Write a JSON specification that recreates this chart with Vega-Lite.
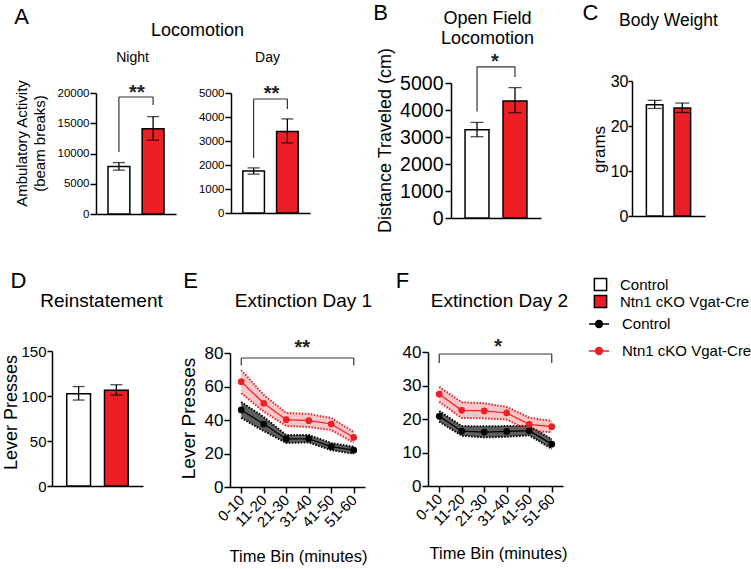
{
  "$schema": "https://vega.github.io/schema/vega-lite/v6.json",
  "autosize": {"type": "none"},
  "padding": {"left": 52, "top": 81, "right": 699, "bottom": 488},
  "background": "white",
  "config": {
    "font": "Liberation Sans",
    "view": {"stroke": null},
    "axis": {"grid": false, "domainColor": "black", "domainWidth": 1.5, "tickColor": "black", "tickWidth": 1.5, "tickSize": 6, "labelColor": "black", "titleColor": "black", "labelFont": "Liberation Sans", "titleFont": "Liberation Sans", "titleFontWeight": "normal", "labelPadding": 2},
    "legend": {"labelFont": "Liberation Sans", "labelColor": "black"},
    "text": {"font": "Liberation Sans"}
  },
  "datasets": {
    "nightBracket": [{"left": "Control", "right": "Ntn1 cKO Vgat-Cre", "top": 19340, "leftEnd": 10250, "rightEnd": 18010, "stars": "**", "starY": 19090}],
    "dayBracket": [{"left": "Control", "right": "Ntn1 cKO Vgat-Cre", "top": 4750, "leftEnd": 2290, "rightEnd": 4330, "stars": "**", "starY": 4690}],
    "ofBracket": [{"left": "Control", "right": "Ntn1 cKO Vgat-Cre", "top": 5600, "leftEnd": 3940, "rightEnd": 5220, "stars": "*", "starY": 5574}],
    "ext1Bracket": [{"left": "0-10", "right": "51-60", "mid": "21-30", "top": 77, "leftEnd": 72.5, "rightEnd": 72.5, "stars": "**", "starY": 79.7}],
    "ext2Bracket": [{"left": "0-10", "right": "51-60", "mid": "21-30", "top": 39.4, "leftEnd": 36.7, "rightEnd": 36.7, "stars": "*", "starY": 39.85}]
  },
  "columns": 4,
  "spacing": {"row": 133, "column": 40},
  "bounds": "flush",
  "align": "each",
  "resolve": {"scale": {"fill": "shared", "color": "shared"}},
  "concat": [
    {
      "width": 138, "height": 133,
      "data": {"values": [
        {"group": "Control", "mean": 7850, "lo": 7250, "hi": 8500},
        {"group": "Ntn1 cKO Vgat-Cre", "mean": 14100, "lo": 12200, "hi": 16100}
      ]},
      "layer": [
        {"mark": {"type": "bar", "stroke": "black", "strokeWidth": 1.5},
         "encoding": {
           "x": {"field": "group", "type": "nominal", "scale": {"range": [44, 124], "paddingInner": 0.36, "paddingOuter": 0.35},
                 "axis": {"orient": "bottom", "labels": false, "ticks": false, "title": "A", "titleFontSize": 22, "titleX": -31, "titleY": -198, "titleAlign": "center", "titleBaseline": "middle", "titleAngle": 0}},
           "y": {"field": "mean", "type": "quantitative", "scale": {"domain": [0, 20000], "range": [133, 12], "nice": false},
                 "axis": {"offset": -44, "values": [0, 5000, 10000, 15000, 20000], "format": "d", "labelFontSize": 11.5, "labelPadding": 1, "title": ["Ambulatory Activity", "(beam breaks)"], "titleFontSize": 15, "titleLineHeight": 18, "titleX": -75, "titleY": 62, "titleAngle": -90, "titleAlign": "center", "titleBaseline": "middle"}},
           "fill": {"field": "group", "type": "nominal", "scale": {"domain": ["Control", "Ntn1 cKO Vgat-Cre"], "range": ["white", "#ec1f26"]},
                    "legend": {"orient": "none", "legendX": 541, "legendY": 196, "title": null, "symbolType": "square", "symbolSize": 150, "symbolStrokeColor": "black", "symbolStrokeWidth": 1.5, "labelFontSize": 15, "labelOffset": 12, "rowPadding": -7, "padding": 0}}
         }},
        {"mark": {"type": "rule", "color": "black", "strokeWidth": 1.3},
         "encoding": {"x": {"field": "group", "type": "nominal", "axis": null}, "y": {"field": "lo", "type": "quantitative", "axis": null}, "y2": {"field": "hi"}}},
        {"mark": {"type": "tick", "color": "black", "size": 12, "thickness": 1.3},
         "encoding": {"x": {"field": "group", "type": "nominal", "axis": null}, "y": {"field": "lo", "type": "quantitative", "axis": null}}},
        {"mark": {"type": "tick", "color": "black", "size": 12, "thickness": 1.3},
         "encoding": {"x": {"field": "group", "type": "nominal", "axis": null}, "y": {"field": "hi", "type": "quantitative", "axis": null}}},
        {"data": {"name": "nightBracket"}, "mark": {"type": "rule", "color": "#333", "strokeWidth": 1.2},
         "encoding": {"x": {"field": "left", "type": "nominal", "axis": {"orient": "top", "domain": false, "labels": false, "ticks": false, "title": "Night", "titleFontSize": 14, "titleX": 80, "titleY": -24, "titleAlign": "center", "titleBaseline": "middle", "titleAngle": 0}},
                      "x2": {"field": "right"}, "y": {"field": "top", "type": "quantitative", "axis": null}}},
        {"data": {"name": "nightBracket"}, "mark": {"type": "rule", "color": "#333", "strokeWidth": 1.2},
         "encoding": {"x": {"field": "left", "type": "nominal", "axis": null}, "y": {"field": "top", "type": "quantitative", "axis": null}, "y2": {"field": "leftEnd"}}},
        {"data": {"name": "nightBracket"}, "mark": {"type": "rule", "color": "#333", "strokeWidth": 1.2},
         "encoding": {"x": {"field": "right", "type": "nominal", "axis": null}, "y": {"field": "top", "type": "quantitative", "axis": null}, "y2": {"field": "rightEnd"}}},
        {"data": {"name": "nightBracket"}, "mark": {"type": "text", "fontSize": 20, "fontWeight": "bold", "baseline": "alphabetic", "align": "center", "dx": 18, "color": "#222"},
         "encoding": {"x": {"field": "left", "type": "nominal", "axis": null}, "y": {"field": "starY", "type": "quantitative", "axis": null}, "text": {"field": "stars"}}}
      ],
      "resolve": {"axis": {"x": "independent", "y": "independent"}}
    },
    {
      "width": 158, "height": 132,
      "data": {"values": [
        {"group": "Control", "mean": 1750, "lo": 1620, "hi": 1880},
        {"group": "Ntn1 cKO Vgat-Cre", "mean": 3400, "lo": 2920, "hi": 3920}
      ]},
      "layer": [
        {"mark": {"type": "bar", "stroke": "black", "strokeWidth": 1.5},
         "encoding": {
           "x": {"field": "group", "type": "nominal", "scale": {"range": [1, 80], "paddingInner": 0.36, "paddingOuter": 0.35},
                 "axis": {"orient": "bottom", "labels": false, "ticks": false, "title": "Locomotion", "titleFontSize": 18, "titleX": -33, "titleY": -183, "titleAlign": "center", "titleBaseline": "middle", "titleAngle": 0}},
           "y": {"field": "mean", "type": "quantitative", "scale": {"domain": [0, 5000], "range": [132, 12], "nice": false},
                 "axis": {"offset": -1, "values": [0, 1000, 2000, 3000, 4000, 5000], "format": "d", "labelFontSize": 11.5, "labelPadding": 1, "title": null}},
           "fill": {"field": "group", "type": "nominal", "scale": {"domain": ["Control", "Ntn1 cKO Vgat-Cre"], "range": ["white", "#ec1f26"]},
                    "legend": {"orient": "none", "legendX": 541, "legendY": 196, "title": null, "symbolType": "square", "symbolSize": 150, "symbolStrokeColor": "black", "symbolStrokeWidth": 1.5, "labelFontSize": 15, "labelOffset": 12, "rowPadding": -7, "padding": 0}}
         }},
        {"mark": {"type": "rule", "color": "black", "strokeWidth": 1.3},
         "encoding": {"x": {"field": "group", "type": "nominal", "axis": null}, "y": {"field": "lo", "type": "quantitative", "axis": null}, "y2": {"field": "hi"}}},
        {"mark": {"type": "tick", "color": "black", "size": 12, "thickness": 1.3},
         "encoding": {"x": {"field": "group", "type": "nominal", "axis": null}, "y": {"field": "lo", "type": "quantitative", "axis": null}}},
        {"mark": {"type": "tick", "color": "black", "size": 12, "thickness": 1.3},
         "encoding": {"x": {"field": "group", "type": "nominal", "axis": null}, "y": {"field": "hi", "type": "quantitative", "axis": null}}},
        {"data": {"name": "dayBracket"}, "mark": {"type": "rule", "color": "#333", "strokeWidth": 1.2},
         "encoding": {"x": {"field": "left", "type": "nominal", "axis": {"orient": "top", "domain": false, "labels": false, "ticks": false, "title": "Day", "titleFontSize": 14, "titleX": 37, "titleY": -24, "titleAlign": "center", "titleBaseline": "middle", "titleAngle": 0}},
                      "x2": {"field": "right"}, "y": {"field": "top", "type": "quantitative", "axis": null}}},
        {"data": {"name": "dayBracket"}, "mark": {"type": "rule", "color": "#333", "strokeWidth": 1.2},
         "encoding": {"x": {"field": "left", "type": "nominal", "axis": null}, "y": {"field": "top", "type": "quantitative", "axis": null}, "y2": {"field": "leftEnd"}}},
        {"data": {"name": "dayBracket"}, "mark": {"type": "rule", "color": "#333", "strokeWidth": 1.2},
         "encoding": {"x": {"field": "right", "type": "nominal", "axis": null}, "y": {"field": "top", "type": "quantitative", "axis": null}, "y2": {"field": "rightEnd"}}},
        {"data": {"name": "dayBracket"}, "mark": {"type": "text", "fontSize": 20, "fontWeight": "bold", "baseline": "alphabetic", "align": "center", "dx": 18, "color": "#222"},
         "encoding": {"x": {"field": "left", "type": "nominal", "axis": null}, "y": {"field": "starY", "type": "quantitative", "axis": null}, "text": {"field": "stars"}}}
      ],
      "resolve": {"axis": {"x": "independent", "y": "independent"}}
    },
    {
      "width": 164, "height": 137,
      "data": {"values": [
        {"group": "Control", "mean": 3270, "lo": 3010, "hi": 3540},
        {"group": "Ntn1 cKO Vgat-Cre", "mean": 4330, "lo": 3900, "hi": 4830}
      ]},
      "layer": [
        {"mark": {"type": "bar", "stroke": "black", "strokeWidth": 1.5},
         "encoding": {
           "x": {"field": "group", "type": "nominal", "scale": {"range": [23, 113], "paddingInner": 0.37, "paddingOuter": 0.37},
                 "axis": {"orient": "bottom", "labels": false, "ticks": false, "title": "B", "titleFontSize": 22, "titleX": -48, "titleY": -206, "titleAlign": "center", "titleBaseline": "middle", "titleAngle": 0}},
           "y": {"field": "mean", "type": "quantitative", "scale": {"domain": [0, 5000], "range": [137, 2], "nice": false},
                 "axis": {"offset": -23, "values": [0, 1000, 2000, 3000, 4000, 5000], "format": "d", "labelFontSize": 19.5, "labelPadding": 2, "title": "Distance Traveled (cm)", "titleFontSize": 18, "titleX": -66, "titleY": 59, "titleAngle": -90, "titleAlign": "center", "titleBaseline": "middle"}},
           "fill": {"field": "group", "type": "nominal", "scale": {"domain": ["Control", "Ntn1 cKO Vgat-Cre"], "range": ["white", "#ec1f26"]},
                    "legend": {"orient": "none", "legendX": 541, "legendY": 196, "title": null, "symbolType": "square", "symbolSize": 150, "symbolStrokeColor": "black", "symbolStrokeWidth": 1.5, "labelFontSize": 15, "labelOffset": 12, "rowPadding": -7, "padding": 0}}
         }},
        {"mark": {"type": "rule", "color": "black", "strokeWidth": 1.3},
         "encoding": {"x": {"field": "group", "type": "nominal", "axis": null}, "y": {"field": "lo", "type": "quantitative", "axis": null}, "y2": {"field": "hi"}}},
        {"mark": {"type": "tick", "color": "black", "size": 13, "thickness": 1.3},
         "encoding": {"x": {"field": "group", "type": "nominal", "axis": null}, "y": {"field": "lo", "type": "quantitative", "axis": null}}},
        {"mark": {"type": "tick", "color": "black", "size": 13, "thickness": 1.3},
         "encoding": {"x": {"field": "group", "type": "nominal", "axis": null}, "y": {"field": "hi", "type": "quantitative", "axis": null}}},
        {"data": {"name": "ofBracket"}, "mark": {"type": "rule", "color": "#333", "strokeWidth": 1.2},
         "encoding": {"x": {"field": "left", "type": "nominal", "axis": {"orient": "top", "domain": false, "labels": false, "ticks": false, "title": ["Open Field", "Locomotion"], "titleFontSize": 18, "titleLineHeight": 20, "titleX": 59, "titleY": -63, "titleAlign": "center", "titleBaseline": "middle", "titleAngle": 0}},
                      "x2": {"field": "right"}, "y": {"field": "top", "type": "quantitative", "axis": null}}},
        {"data": {"name": "ofBracket"}, "mark": {"type": "rule", "color": "#333", "strokeWidth": 1.2},
         "encoding": {"x": {"field": "left", "type": "nominal", "axis": null}, "y": {"field": "top", "type": "quantitative", "axis": null}, "y2": {"field": "leftEnd"}}},
        {"data": {"name": "ofBracket"}, "mark": {"type": "rule", "color": "#333", "strokeWidth": 1.2},
         "encoding": {"x": {"field": "right", "type": "nominal", "axis": null}, "y": {"field": "top", "type": "quantitative", "axis": null}, "y2": {"field": "rightEnd"}}},
        {"data": {"name": "ofBracket"}, "mark": {"type": "text", "fontSize": 20, "fontWeight": "bold", "baseline": "alphabetic", "align": "center", "dx": 18, "color": "#222"},
         "encoding": {"x": {"field": "left", "type": "nominal", "axis": null}, "y": {"field": "starY", "type": "quantitative", "axis": null}, "text": {"field": "stars"}}}
      ],
      "resolve": {"axis": {"x": "independent", "y": "independent"}}
    },
    {
      "width": 74, "height": 135,
      "data": {"values": [
        {"group": "Control", "mean": 24.7, "lo": 23.9, "hi": 25.7},
        {"group": "Ntn1 cKO Vgat-Cre", "mean": 24.0, "lo": 23.0, "hi": 25.1}
      ]},
      "layer": [
        {"mark": {"type": "bar", "stroke": "black", "strokeWidth": 1.5},
         "encoding": {
           "x": {"field": "group", "type": "nominal", "scale": {"range": [0, 73], "paddingInner": 0.4, "paddingOuter": 0.52},
                 "axis": {"orient": "bottom", "labels": false, "ticks": false, "title": "C", "titleFontSize": 22, "titleX": -42, "titleY": -204, "titleAlign": "center", "titleBaseline": "middle", "titleAngle": 0}},
           "y": {"field": "mean", "type": "quantitative", "scale": {"domain": [0, 30], "range": [135, 0], "nice": false},
                 "axis": {"values": [0, 10, 20, 30], "format": "d", "labelFontSize": 16, "tickSize": 4, "labelPadding": 0, "title": "grams", "titleFontSize": 17, "titleX": -33, "titleY": 68, "titleAngle": -90, "titleAlign": "center", "titleBaseline": "middle"}},
           "fill": {"field": "group", "type": "nominal", "scale": {"domain": ["Control", "Ntn1 cKO Vgat-Cre"], "range": ["white", "#ec1f26"]},
                    "legend": {"orient": "none", "legendX": 541, "legendY": 196, "title": null, "symbolType": "square", "symbolSize": 150, "symbolStrokeColor": "black", "symbolStrokeWidth": 1.5, "labelFontSize": 15, "labelOffset": 12, "rowPadding": -7, "padding": 0}}
         }},
        {"mark": {"type": "rule", "color": "black", "strokeWidth": 1.3},
         "encoding": {"x": {"field": "group", "type": "nominal", "axis": {"orient": "top", "domain": false, "labels": false, "ticks": false, "title": "Body Weight", "titleFontSize": 17.5, "titleX": 36, "titleY": -61, "titleAlign": "center", "titleBaseline": "middle", "titleAngle": 0}},
                      "y": {"field": "lo", "type": "quantitative", "axis": null}, "y2": {"field": "hi"}}},
        {"mark": {"type": "tick", "color": "black", "size": 14, "thickness": 1.3},
         "encoding": {"x": {"field": "group", "type": "nominal", "axis": null}, "y": {"field": "lo", "type": "quantitative", "axis": null}}},
        {"mark": {"type": "tick", "color": "black", "size": 14, "thickness": 1.3},
         "encoding": {"x": {"field": "group", "type": "nominal", "axis": null}, "y": {"field": "hi", "type": "quantitative", "axis": null}}}
      ],
      "resolve": {"axis": {"x": "independent", "y": "independent"}}
    },
    {
      "width": 138, "height": 135,
      "data": {"values": [
        {"group": "Control", "mean": 102.5, "lo": 95.5, "hi": 110.5},
        {"group": "Ntn1 cKO Vgat-Cre", "mean": 106.5, "lo": 101, "hi": 112.5}
      ]},
      "layer": [
        {"mark": {"type": "bar", "stroke": "black", "strokeWidth": 1.5},
         "encoding": {
           "x": {"field": "group", "type": "nominal", "scale": {"range": [0, 91], "paddingInner": 0.37, "paddingOuter": 0.39},
                 "axis": {"orient": "bottom", "labels": false, "ticks": false, "title": "D", "titleFontSize": 22, "titleX": -34, "titleY": -206, "titleAlign": "center", "titleBaseline": "middle", "titleAngle": 0}},
           "y": {"field": "mean", "type": "quantitative", "scale": {"domain": [0, 150], "range": [135, 0], "nice": false},
                 "axis": {"values": [0, 50, 100, 150], "format": "d", "labelFontSize": 15, "tickSize": 5, "labelPadding": 1, "title": "Lever Presses", "titleFontSize": 18, "titleX": -41, "titleY": 61, "titleAngle": -90, "titleAlign": "center", "titleBaseline": "middle"}},
           "fill": {"field": "group", "type": "nominal", "scale": {"domain": ["Control", "Ntn1 cKO Vgat-Cre"], "range": ["white", "#ec1f26"]},
                    "legend": {"orient": "none", "legendX": 541, "legendY": 196, "title": null, "symbolType": "square", "symbolSize": 150, "symbolStrokeColor": "black", "symbolStrokeWidth": 1.5, "labelFontSize": 15, "labelOffset": 12, "rowPadding": -7, "padding": 0}}
         }},
        {"mark": {"type": "rule", "color": "black", "strokeWidth": 1.3},
         "encoding": {"x": {"field": "group", "type": "nominal", "axis": {"orient": "top", "domain": false, "labels": false, "ticks": false, "title": "Reinstatement", "titleFontSize": 19, "titleX": 49, "titleY": -51, "titleAlign": "center", "titleBaseline": "middle", "titleAngle": 0}},
                      "y": {"field": "lo", "type": "quantitative", "axis": null}, "y2": {"field": "hi"}}},
        {"mark": {"type": "tick", "color": "black", "size": 12, "thickness": 1.3},
         "encoding": {"x": {"field": "group", "type": "nominal", "axis": null}, "y": {"field": "lo", "type": "quantitative", "axis": null}}},
        {"mark": {"type": "tick", "color": "black", "size": 12, "thickness": 1.3},
         "encoding": {"x": {"field": "group", "type": "nominal", "axis": null}, "y": {"field": "hi", "type": "quantitative", "axis": null}}}
      ],
      "resolve": {"axis": {"x": "independent", "y": "independent"}}
    },
    {
      "width": 158, "height": 136,
      "data": {"values": [
        {"bin": "0-10", "genotype": "Control", "mean": 46.0, "lo": 41.2, "hi": 50.7},
        {"bin": "11-20", "genotype": "Control", "mean": 37.6, "lo": 33.4, "hi": 41.8},
        {"bin": "21-30", "genotype": "Control", "mean": 28.7, "lo": 26.3, "hi": 31.0},
        {"bin": "31-40", "genotype": "Control", "mean": 28.8, "lo": 26.6, "hi": 31.0},
        {"bin": "41-50", "genotype": "Control", "mean": 24.1, "lo": 22.0, "hi": 26.3},
        {"bin": "51-60", "genotype": "Control", "mean": 22.0, "lo": 19.9, "hi": 24.0},
        {"bin": "0-10", "genotype": "Ntn1 cKO Vgat-Cre", "mean": 62.9, "lo": 56.0, "hi": 69.8},
        {"bin": "11-20", "genotype": "Ntn1 cKO Vgat-Cre", "mean": 50.0, "lo": 45.0, "hi": 54.9},
        {"bin": "21-30", "genotype": "Ntn1 cKO Vgat-Cre", "mean": 40.2, "lo": 36.4, "hi": 44.2},
        {"bin": "31-40", "genotype": "Ntn1 cKO Vgat-Cre", "mean": 39.6, "lo": 35.8, "hi": 43.6},
        {"bin": "41-50", "genotype": "Ntn1 cKO Vgat-Cre", "mean": 37.6, "lo": 34.0, "hi": 41.2},
        {"bin": "51-60", "genotype": "Ntn1 cKO Vgat-Cre", "mean": 29.6, "lo": 26.5, "hi": 32.8}
      ]},
      "layer": [
        {"transform": [{"filter": "datum.genotype === 'Ntn1 cKO Vgat-Cre'"}],
         "mark": {"type": "area", "color": "#f9c5c7"},
         "encoding": {
           "x": {"field": "bin", "type": "nominal", "scale": {"type": "point", "range": [0, 135], "padding": 0.5},
                 "axis": {"orient": "bottom", "labelAngle": -45, "labelAlign": "right", "labelBaseline": "middle", "labelFontSize": 15, "labelPadding": 4, "title": "Time Bin (minutes)", "titleFontSize": 16.5, "titleX": 68, "titleY": 69, "titleAlign": "center", "titleBaseline": "middle", "titleAngle": 0}},
           "y": {"field": "lo", "type": "quantitative", "scale": {"domain": [0, 80], "range": [136, 2], "nice": false},
                 "axis": {"values": [0, 20, 40, 60, 80], "format": "d", "labelFontSize": 17, "labelPadding": 1, "title": "Lever Presses", "titleFontSize": 19, "titleX": -42, "titleY": 67, "titleAngle": -90, "titleAlign": "center", "titleBaseline": "middle"}},
           "y2": {"field": "hi"}
         }},
        {"transform": [{"filter": "datum.genotype === 'Control'"}],
         "mark": {"type": "area", "color": "#5e5e5e"},
         "encoding": {"x": {"field": "bin", "type": "nominal", "axis": null}, "y": {"field": "lo", "type": "quantitative", "axis": null}, "y2": {"field": "hi"}}},
        {"mark": {"type": "line", "strokeDash": [1.5, 1.5], "strokeWidth": 2},
         "encoding": {"x": {"field": "bin", "type": "nominal", "axis": null}, "y": {"field": "hi", "type": "quantitative", "axis": null},
                      "color": {"field": "genotype", "type": "nominal", "scale": {"range": ["black", "#ec1f26"]},
                                "legend": {"orient": "none", "legendX": 536, "legendY": 232, "title": null, "symbolType": "M-1,0L1,0M-0.35,0A0.35,0.35,0,1,1,0.35,0A0.35,0.35,0,1,1,-0.35,0Z", "symbolSize": 400, "symbolStrokeWidth": 1.3, "labelFontSize": 15, "labelOffset": 12, "rowPadding": 8, "padding": 0,
                                           "encode": {"symbols": {"update": {"fill": {"scale": "color", "field": "value"}, "stroke": {"scale": "color", "field": "value"}, "strokeDash": {"value": []}, "opacity": {"value": 1}}}}}}}},
        {"mark": {"type": "line", "strokeDash": [1.5, 1.5], "strokeWidth": 2},
         "encoding": {"x": {"field": "bin", "type": "nominal", "axis": null}, "y": {"field": "lo", "type": "quantitative", "axis": null},
                      "color": {"field": "genotype", "type": "nominal"}}},
        {"mark": {"type": "line", "strokeWidth": 1.2},
         "encoding": {"x": {"field": "bin", "type": "nominal", "axis": null}, "y": {"field": "mean", "type": "quantitative", "axis": null},
                      "color": {"field": "genotype", "type": "nominal"}}},
        {"mark": {"type": "point", "filled": true, "size": 45, "opacity": 1},
         "encoding": {"x": {"field": "bin", "type": "nominal", "axis": null}, "y": {"field": "mean", "type": "quantitative", "axis": null},
                      "color": {"field": "genotype", "type": "nominal"}}},
        {"data": {"name": "ext1Bracket"}, "mark": {"type": "rule", "color": "#333", "strokeWidth": 1.2},
         "encoding": {"x": {"field": "left", "type": "nominal", "axis": {"orient": "top", "domain": false, "labels": false, "ticks": false, "title": "Extinction Day 1", "titleFontSize": 19, "titleX": 73, "titleY": -51, "titleAlign": "center", "titleBaseline": "middle", "titleAngle": 0}},
                      "x2": {"field": "right"},
                      "y": {"field": "top", "type": "quantitative", "axis": {"orient": "right", "domain": false, "labels": false, "ticks": false, "title": "E", "titleFontSize": 22, "titleX": -198, "titleY": -71, "titleAlign": "center", "titleBaseline": "middle", "titleAngle": 0}}}},
        {"data": {"name": "ext1Bracket"}, "mark": {"type": "rule", "color": "#333", "strokeWidth": 1.2},
         "encoding": {"x": {"field": "left", "type": "nominal", "axis": null}, "y": {"field": "top", "type": "quantitative", "axis": null}, "y2": {"field": "leftEnd"}}},
        {"data": {"name": "ext1Bracket"}, "mark": {"type": "rule", "color": "#333", "strokeWidth": 1.2},
         "encoding": {"x": {"field": "right", "type": "nominal", "axis": null}, "y": {"field": "top", "type": "quantitative", "axis": null}, "y2": {"field": "rightEnd"}}},
        {"data": {"name": "ext1Bracket"}, "mark": {"type": "text", "fontSize": 20, "fontWeight": "bold", "baseline": "alphabetic", "align": "center", "dx": 16, "color": "#222"},
         "encoding": {"x": {"field": "mid", "type": "nominal", "axis": null}, "y": {"field": "starY", "type": "quantitative", "axis": null}, "text": {"field": "stars"}}}
      ],
      "resolve": {"axis": {"x": "independent", "y": "independent"}}
    },
    {
      "width": 164, "height": 135,
      "data": {"values": [
        {"bin": "0-10", "genotype": "Control", "mean": 20.8, "lo": 19.2, "hi": 22.4},
        {"bin": "11-20", "genotype": "Control", "mean": 16.4, "lo": 15.0, "hi": 17.9},
        {"bin": "21-30", "genotype": "Control", "mean": 16.1, "lo": 14.5, "hi": 17.8},
        {"bin": "31-40", "genotype": "Control", "mean": 16.3, "lo": 14.7, "hi": 17.9},
        {"bin": "41-50", "genotype": "Control", "mean": 16.5, "lo": 15.1, "hi": 17.9},
        {"bin": "51-60", "genotype": "Control", "mean": 12.5, "lo": 11.1, "hi": 14.0},
        {"bin": "0-10", "genotype": "Ntn1 cKO Vgat-Cre", "mean": 27.4, "lo": 25.1, "hi": 29.6},
        {"bin": "11-20", "genotype": "Ntn1 cKO Vgat-Cre", "mean": 22.6, "lo": 20.3, "hi": 25.0},
        {"bin": "21-30", "genotype": "Ntn1 cKO Vgat-Cre", "mean": 22.4, "lo": 20.2, "hi": 24.7},
        {"bin": "31-40", "genotype": "Ntn1 cKO Vgat-Cre", "mean": 21.8, "lo": 19.8, "hi": 23.6},
        {"bin": "41-50", "genotype": "Ntn1 cKO Vgat-Cre", "mean": 18.4, "lo": 16.6, "hi": 20.4},
        {"bin": "51-60", "genotype": "Ntn1 cKO Vgat-Cre", "mean": 17.7, "lo": 16.0, "hi": 19.4}
      ]},
      "layer": [
        {"transform": [{"filter": "datum.genotype === 'Ntn1 cKO Vgat-Cre'"}],
         "mark": {"type": "area", "color": "#f9c5c7"},
         "encoding": {
           "x": {"field": "bin", "type": "nominal", "scale": {"type": "point", "range": [0, 135], "padding": 0.5},
                 "axis": {"orient": "bottom", "labelAngle": -45, "labelAlign": "right", "labelBaseline": "middle", "labelFontSize": 15, "labelPadding": 4, "title": "Time Bin (minutes)", "titleFontSize": 16.5, "titleX": 70, "titleY": 67, "titleAlign": "center", "titleBaseline": "middle", "titleAngle": 0}},
           "y": {"field": "lo", "type": "quantitative", "scale": {"domain": [0, 40], "range": [135, 1], "nice": false},
                 "axis": {"values": [0, 10, 20, 30, 40], "format": "d", "labelFontSize": 17, "labelPadding": 1, "title": "F", "titleFontSize": 22, "titleX": -26, "titleY": -71, "titleAngle": 0, "titleAlign": "center", "titleBaseline": "middle"}},
           "y2": {"field": "hi"}
         }},
        {"transform": [{"filter": "datum.genotype === 'Control'"}],
         "mark": {"type": "area", "color": "#5e5e5e"},
         "encoding": {"x": {"field": "bin", "type": "nominal", "axis": null}, "y": {"field": "lo", "type": "quantitative", "axis": null}, "y2": {"field": "hi"}}},
        {"mark": {"type": "line", "strokeDash": [1.5, 1.5], "strokeWidth": 2},
         "encoding": {"x": {"field": "bin", "type": "nominal", "axis": null}, "y": {"field": "hi", "type": "quantitative", "axis": null},
                      "color": {"field": "genotype", "type": "nominal", "scale": {"range": ["black", "#ec1f26"]},
                                "legend": {"orient": "none", "legendX": 536, "legendY": 232, "title": null, "symbolType": "M-1,0L1,0M-0.35,0A0.35,0.35,0,1,1,0.35,0A0.35,0.35,0,1,1,-0.35,0Z", "symbolSize": 400, "symbolStrokeWidth": 1.3, "labelFontSize": 15, "labelOffset": 12, "rowPadding": 8, "padding": 0,
                                           "encode": {"symbols": {"update": {"fill": {"scale": "color", "field": "value"}, "stroke": {"scale": "color", "field": "value"}, "strokeDash": {"value": []}, "opacity": {"value": 1}}}}}}}},
        {"mark": {"type": "line", "strokeDash": [1.5, 1.5], "strokeWidth": 2},
         "encoding": {"x": {"field": "bin", "type": "nominal", "axis": null}, "y": {"field": "lo", "type": "quantitative", "axis": null},
                      "color": {"field": "genotype", "type": "nominal"}}},
        {"mark": {"type": "line", "strokeWidth": 1.2},
         "encoding": {"x": {"field": "bin", "type": "nominal", "axis": null}, "y": {"field": "mean", "type": "quantitative", "axis": null},
                      "color": {"field": "genotype", "type": "nominal"}}},
        {"mark": {"type": "point", "filled": true, "size": 45, "opacity": 1},
         "encoding": {"x": {"field": "bin", "type": "nominal", "axis": null}, "y": {"field": "mean", "type": "quantitative", "axis": null},
                      "color": {"field": "genotype", "type": "nominal"}}},
        {"data": {"name": "ext2Bracket"}, "mark": {"type": "rule", "color": "#333", "strokeWidth": 1.2},
         "encoding": {"x": {"field": "left", "type": "nominal", "axis": {"orient": "top", "domain": false, "labels": false, "ticks": false, "title": "Extinction Day 2", "titleFontSize": 19, "titleX": 71, "titleY": -51, "titleAlign": "center", "titleBaseline": "middle", "titleAngle": 0}},
                      "x2": {"field": "right"}, "y": {"field": "top", "type": "quantitative", "axis": null}}},
        {"data": {"name": "ext2Bracket"}, "mark": {"type": "rule", "color": "#333", "strokeWidth": 1.2},
         "encoding": {"x": {"field": "left", "type": "nominal", "axis": null}, "y": {"field": "top", "type": "quantitative", "axis": null}, "y2": {"field": "leftEnd"}}},
        {"data": {"name": "ext2Bracket"}, "mark": {"type": "rule", "color": "#333", "strokeWidth": 1.2},
         "encoding": {"x": {"field": "right", "type": "nominal", "axis": null}, "y": {"field": "top", "type": "quantitative", "axis": null}, "y2": {"field": "rightEnd"}}},
        {"data": {"name": "ext2Bracket"}, "mark": {"type": "text", "fontSize": 20, "fontWeight": "bold", "baseline": "alphabetic", "align": "center", "dx": 14, "color": "#222"},
         "encoding": {"x": {"field": "mid", "type": "nominal", "axis": null}, "y": {"field": "starY", "type": "quantitative", "axis": null}, "text": {"field": "stars"}}}
      ],
      "resolve": {"axis": {"x": "independent", "y": "independent"}}
    }
  ]
}
